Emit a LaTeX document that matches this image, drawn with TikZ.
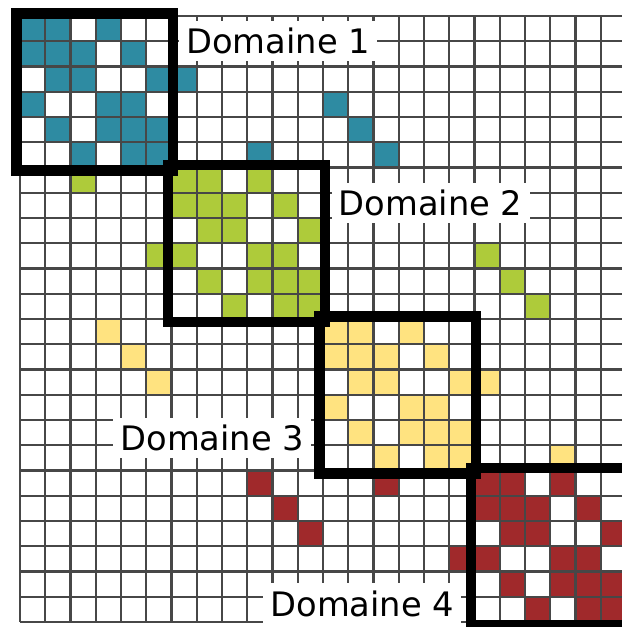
\documentclass[tikz,border=0pt]{standalone}
\usepackage{fontspec}
\setmainfont{DejaVu Sans}

\definecolor{domA}{RGB}{46,139,162}
\definecolor{domB}{RGB}{174,203,58}
\definecolor{domC}{RGB}{255,227,128}
\definecolor{domD}{RGB}{160,41,43}

\tikzset{
  cell/.style={fill=#1, draw=#1!70!black, line width=0.6pt},
  gridline/.style={draw=black!72, line width=1.3pt},
  domainbox/.style={draw=black, line width=5.9pt},
  domlabel/.style={fill=white, inner sep=4pt, anchor=base,
    font=\fontsize{19}{22}\selectfont},
}

% pattern of one diagonal block, shifted by #1, coloured #2
\newcommand{\blockcells}[2]{%
  \foreach \c/\r in {0/0,1/0,3/0, 0/1,1/1,2/1,4/1, 1/2,2/2,5/2,
                     0/3,3/3,4/3, 1/4,3/4,4/4,5/4, 2/5,4/5,5/5}
    \filldraw[cell=#2] (#1+\c,#1+\r) rectangle ++(1,1);
}

\begin{document}
\begin{tikzpicture}[x=0.5cm, y=-0.5cm]
  \useasboundingbox (-0.792,-0.634) rectangle (23.84,24.2);
  \clip (-0.792,-0.634) rectangle (23.84,24.2);

  % Diagonal blocks
  \blockcells{0}{domA}
  \blockcells{6}{domB}
  \blockcells{12}{domC}
  \blockcells{18}{domD}

  % Coupling entries
  \foreach \c/\r in {6/2, 9/5, 12/3, 13/4, 14/5}
    \filldraw[cell=domA] (\c,\r) rectangle ++(1,1);
  \foreach \c/\r in {2/6, 5/9, 18/9, 19/10, 20/11}
    \filldraw[cell=domB] (\c,\r) rectangle ++(1,1);
  \foreach \c/\r in {3/12, 4/13, 5/14, 18/14, 21/17}
    \filldraw[cell=domC] (\c,\r) rectangle ++(1,1);
  \foreach \c/\r in {9/18, 10/19, 11/20, 14/18, 17/21}
    \filldraw[cell=domD] (\c,\r) rectangle ++(1,1);

  % Grid
  \foreach \i in {0,...,24} {
    \draw[gridline] (\i,0) -- (\i,24);
    \draw[gridline] (0,\i) -- (24,\i);
  }

  % Labels
  \node[domlabel] (label1) at (10.22,1.48) {Domaine 1};
  \node[domlabel] (label2) at (16.26,7.90) {Domaine 2};
  \node[domlabel] (label3) at (7.62,17.22) {Domaine 3};
  \node[domlabel] (label4) at (13.56,23.77) {Domaine 4};

  % Domain boxes
  \foreach \k in {0,6,12,18}
    \draw[domainbox] (\k-0.14,\k-0.1) rectangle (\k+6.07,\k+6.12);
\end{tikzpicture}
\end{document}
